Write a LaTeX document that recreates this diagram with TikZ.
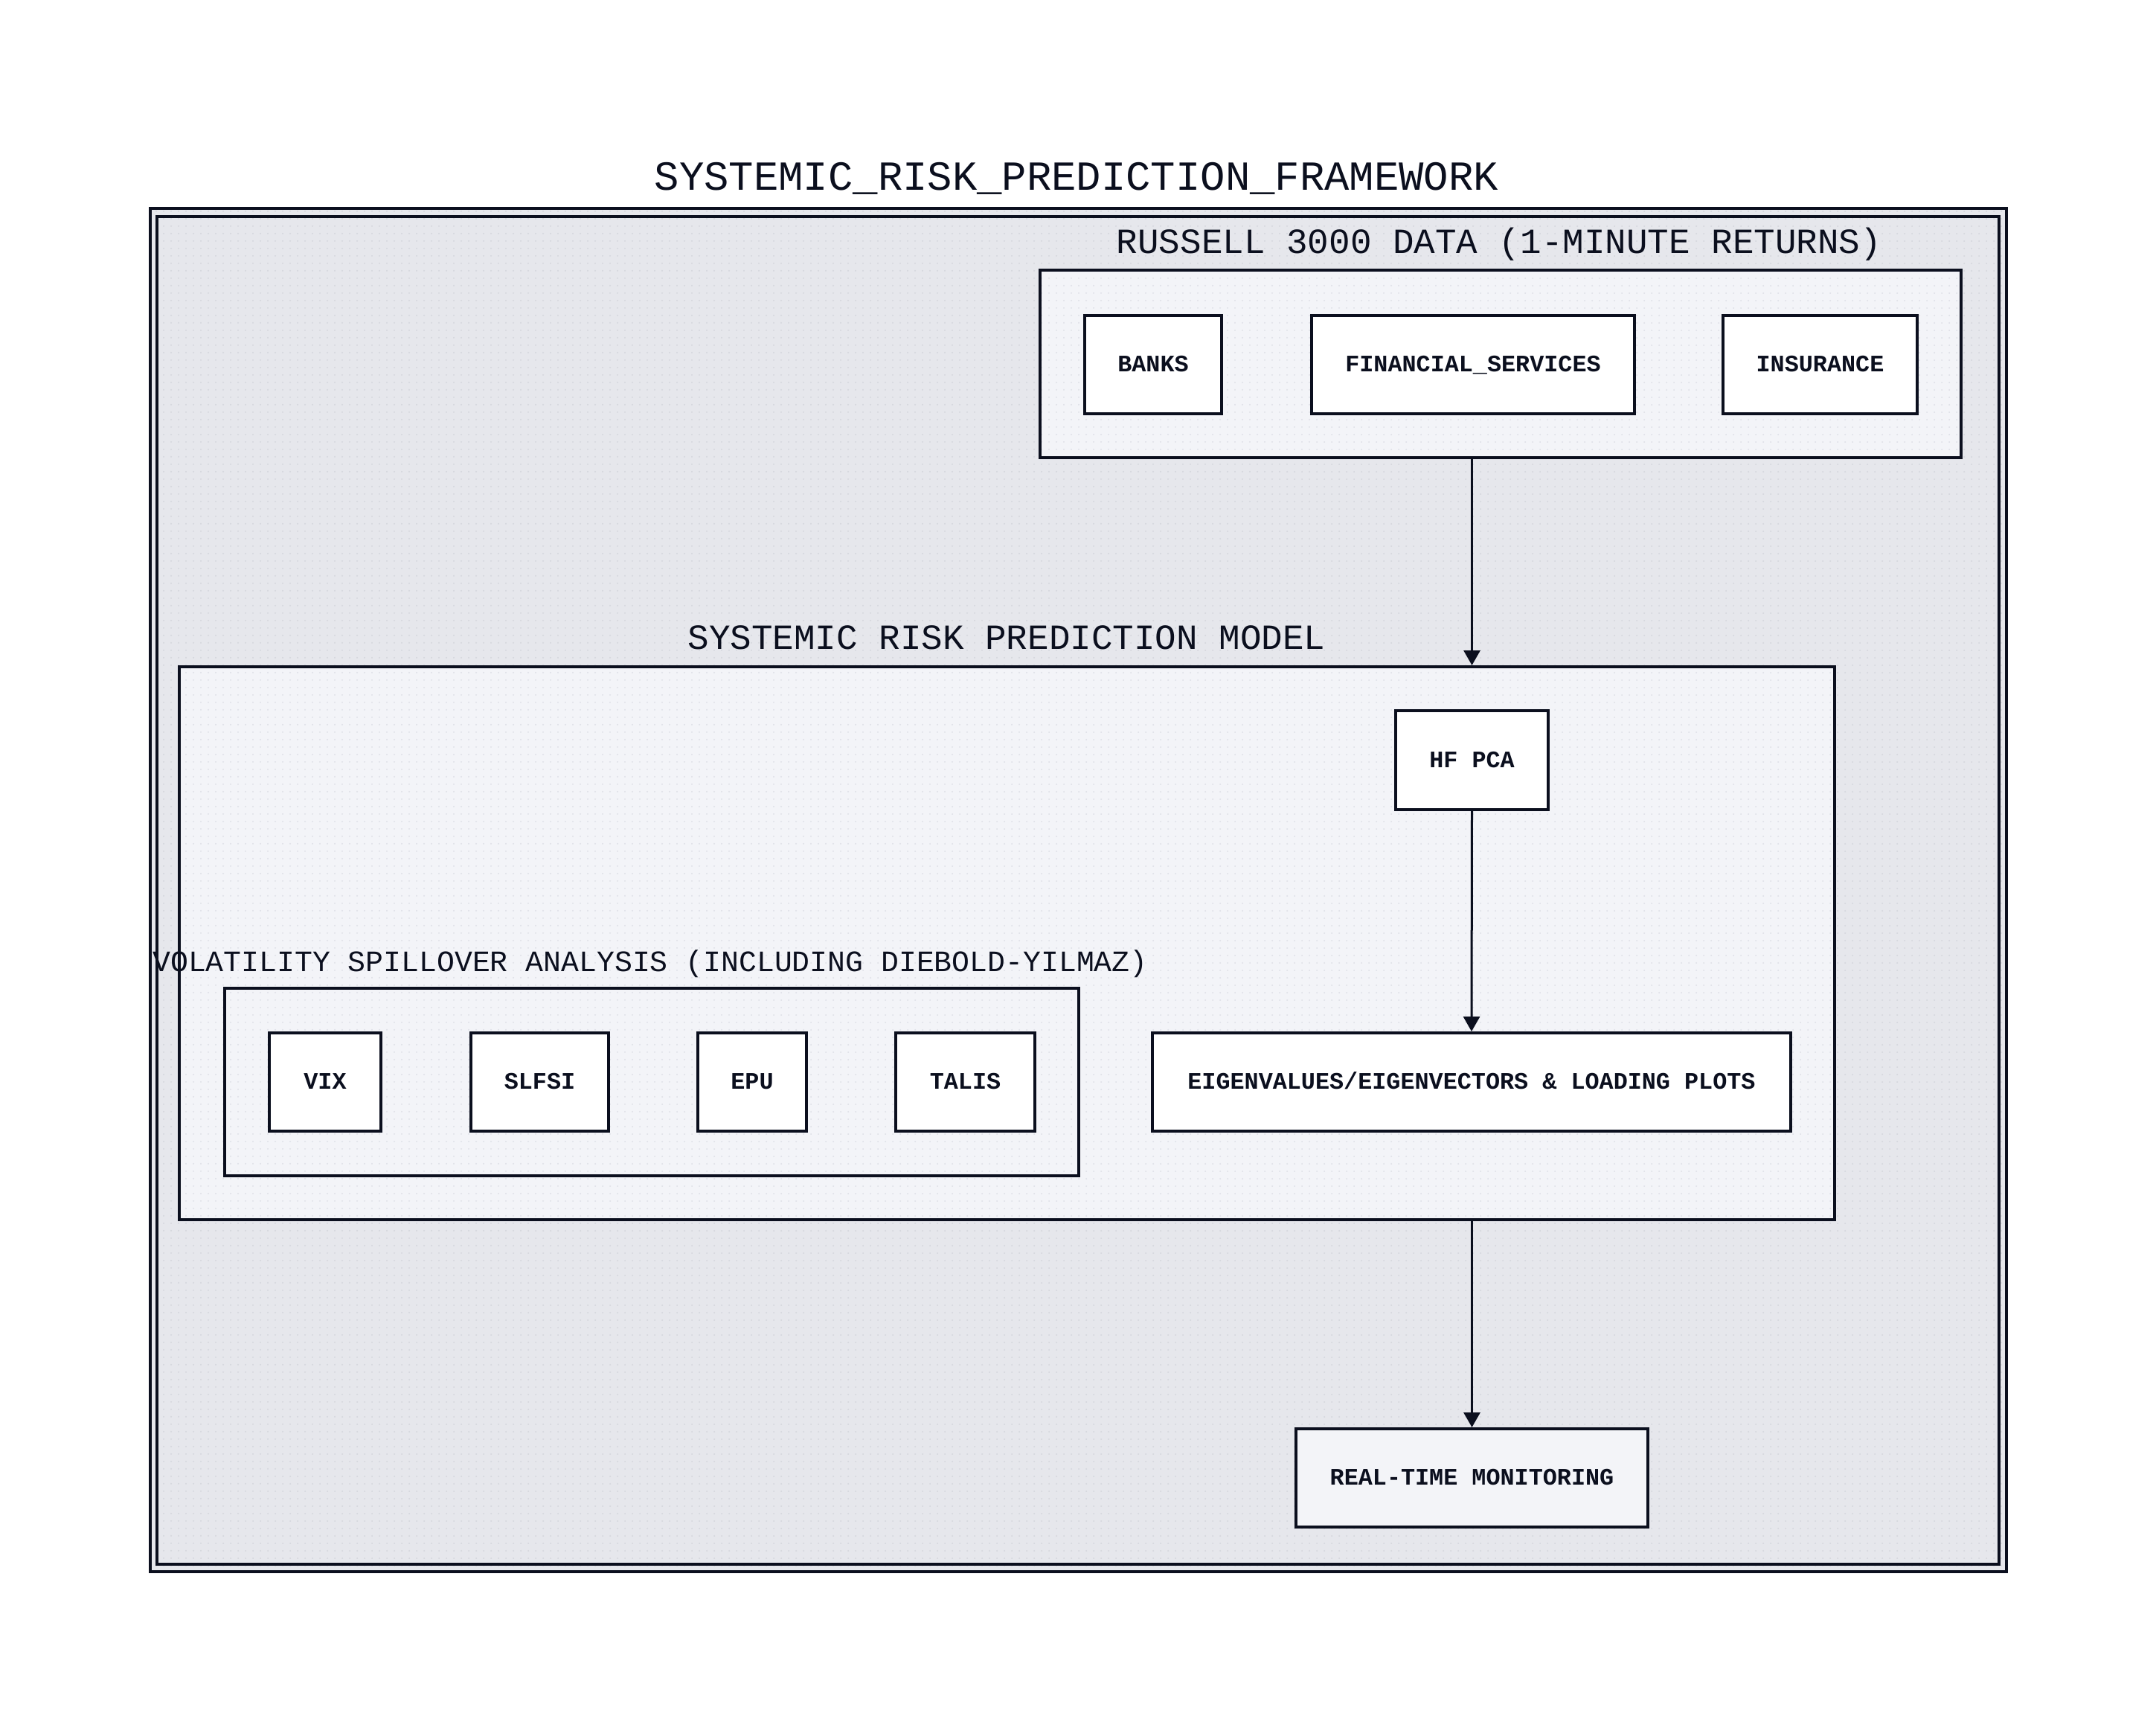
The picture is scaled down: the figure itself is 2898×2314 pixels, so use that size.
\documentclass[tikz,border=0pt]{standalone}
\usepackage{fontspec}
\setmonofont{Liberation Mono}
\usetikzlibrary{arrows.meta,patterns.meta}
\definecolor{frameblk}{HTML}{0B0F1E}
\definecolor{outerbg}{HTML}{E6E7EC}
\definecolor{groupbg}{HTML}{F3F4F8}
\definecolor{dotout}{HTML}{D2D4DB}
\definecolor{dotgrp}{HTML}{DCDEE5}
\tikzset{
  px/.style={x=0.5pt,y=-0.5pt},
  frame/.style={draw=frameblk,line width=2pt},
  outerfill/.style={frame,preaction={fill=outerbg},pattern={Dots[distance=5pt,radius=0.5pt]},pattern color=dotout},
  groupbox/.style={frame,preaction={fill=groupbg},pattern={Dots[distance=5pt,radius=0.5pt]},pattern color=dotgrp,inner sep=0pt,minimum height=126pt},
  leaf/.style={frame,fill=white,inner sep=0pt,minimum height=66pt,text height=0.975em,text depth=0pt,
    font=\ttfamily\bfseries\fontsize{15.9pt}{18pt}\selectfont,text=frameblk},
  grouplabel/.style={anchor=base,inner sep=0pt,text=frameblk,font=\ttfamily\fontsize{23.8pt}{26pt}\selectfont},
  arr/.style={draw=frameblk,line width=1.5pt,-{Triangle[length=10pt,width=11pt]}}
}
\begin{document}
\begin{tikzpicture}[px]
\useasboundingbox (0,0) rectangle (2898,2314);
% outer frames
\path[outerfill] (202,280) rectangle (2697,2112);
\draw[frame] (211,291) rectangle (2687,2102);
% title
\node[anchor=base,inner sep=0pt,text=frameblk,font=\ttfamily\fontsize{27.8pt}{30pt}\selectfont] (title) at (1447,255) {SYSTEMIC\_RISK\_PREDICTION\_FRAMEWORK};
% Russell group
\node[grouplabel] (rlab) at (2015,340) {RUSSELL 3000 DATA (1-MINUTE RETURNS)};
\node[groupbox,minimum width=619pt] (russell) at (2017,489) {};
\node[leaf,minimum width=92pt] (banks) at (1550,489.5) {BANKS};
\node[leaf,minimum width=217pt] (fin) at (1980,489.5) {FINANCIAL\_SERVICES};
\node[leaf,minimum width=130.5pt] (ins) at (2446.5,489.5) {INSURANCE};
% Model group
\node[grouplabel] (mlab) at (1353,872) {SYSTEMIC RISK PREDICTION MODEL};
\node[groupbox,minimum width=1112.5pt,minimum height=371.5pt] (model) at (1353.5,1267.5) {};
\node[leaf,minimum width=102.5pt,minimum height=66.5pt] (hfpca) at (1978.5,1021.5) {HF PCA};
\node[leaf,minimum width=429pt] (eigen) at (1978,1454) {EIGENVALUES/EIGENVECTORS \& LOADING PLOTS};
% Volatility group
\node[grouplabel,font=\ttfamily\fontsize{19.9pt}{22pt}\selectfont] (vlab) at (874,1305) {VOLATILITY SPILLOVER ANALYSIS (INCLUDING DIEBOLD-YILMAZ)};
\node[groupbox,minimum width=574pt] (vol) at (876,1454) {};
\node[leaf,minimum width=75pt] (vix) at (437,1454) {VIX};
\node[leaf,minimum width=92.5pt] (slfsi) at (725.5,1454) {SLFSI};
\node[leaf,minimum width=73pt] (epu) at (1011,1454) {EPU};
\node[leaf,minimum width=93.5pt] (talis) at (1297.5,1454) {TALIS};
% Real-time
\node[leaf,fill=groupbg,minimum width=236.5pt] (rt) at (1978.5,1986) {REAL-TIME MONITORING};
% arrows
\draw[arr] (russell.south -| hfpca.north) -- (model.north -| hfpca.north);
\draw[arr] (hfpca.south) -- (eigen.north);
\draw[arr] (model.south -| rt.north) -- (rt.north);
\end{tikzpicture}
\end{document}
